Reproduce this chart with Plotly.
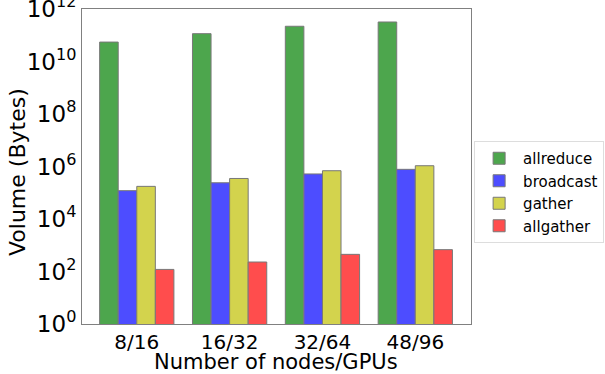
import plotly.graph_objects as go

categories = ["8/16", "16/32", "32/64", "48/96"]
allreduce = [5.5e10, 1.15e11, 2.2e11, 3.2e11]
broadcast = [1.2e5, 2.4e5, 5.2e5, 7.8e5]
gather = [1.75e5, 3.5e5, 6.9e5, 1.07e6]
allgather = [120, 230, 450, 680]
series_names = ["allreduce", "broadcast", "gather", "allgather"]
colors = ["rgb(77,166,77)", "rgb(77,77,255)", "rgb(211,211,77)", "rgb(255,77,77)"]
tick_vals = [1, 1e2, 1e4, 1e6, 1e8, 1e10, 1e12]
tick_text = ["10<sup>0</sup>", "10<sup>2</sup>", "10<sup>4</sup>", "10<sup>6</sup>",
             "10<sup>8</sup>", "10<sup>10</sup>", "10<sup>12</sup>"]
x_title = "Number of nodes/GPUs"
y_title = "Volume (Bytes)"

W, H = 605, 374
L, R, T, B = 82, 134, 9, 50

fig = go.Figure()
for name, vals, c in zip(series_names, [allreduce, broadcast, gather, allgather], colors):
    fig.add_trace(go.Bar(x=list(range(len(categories))), y=vals, name=name,
                         marker=dict(color=c, line=dict(color="rgb(120,120,120)", width=1))))

font = "DejaVu Sans"
ph = H - T - B
fig.update_layout(
    width=W, height=H,
    margin=dict(l=L, r=R, t=T, b=B, autoexpand=False),
    paper_bgcolor="white", plot_bgcolor="white",
    barmode="group", bargap=0.2, bargroupgap=0,
    font=dict(family=font, color="black"),
    showlegend=True,
    legend=dict(x=1.008, y=(H - B - 141) / ph, xanchor="left", yanchor="top",
                bordercolor="#dddddd", borderwidth=1,
                font=dict(size=15, family=font), tracegroupgap=0,
                itemwidth=38),
    xaxis=dict(range=[-0.59, 3.6], tickvals=list(range(len(categories))),
               ticktext=categories, showline=True, mirror=True, automargin=False,
               linecolor="rgb(128,128,128)", linewidth=1, ticks="",
               tickfont=dict(size=20), showgrid=False, ticklabeloverflow="allow",
               ticklabelstandoff=0),
    yaxis=dict(type="log", range=[0, 12], tickvals=tick_vals, ticktext=tick_text,
               showline=True, mirror=True, linecolor="rgb(128,128,128)", linewidth=1,
               ticks="", tickfont=dict(size=23), showgrid=False, zeroline=False, automargin=False,
               ticklabeloverflow="allow"),
    annotations=[
        dict(text=x_title, xref="paper", yref="paper", x=(276 - L) / (W - L - R),
             y=(H - B - 362) / ph, xanchor="center", yanchor="middle",
             showarrow=False, font=dict(size=21, family=font)),
        dict(text=y_title, xref="paper", yref="paper", x=(18 - L) / (W - L - R),
             y=(H - B - 172) / ph, xanchor="center", yanchor="middle", textangle=-90,
             showarrow=False, font=dict(size=22, family=font)),
    ],
)
fig.write_html("out.html", config={"displayModeBar": False})
with open("out.html", "r", encoding="utf-8") as f:
    html = f.read()
html = html.replace("<body>", '<body style="margin:0;padding:0;overflow:hidden">', 1)
with open("out.html", "w", encoding="utf-8") as f:
    f.write(html)
